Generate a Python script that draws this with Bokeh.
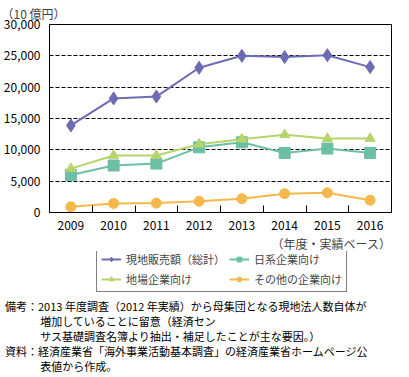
from bokeh.plotting import figure
from bokeh.models import (FixedTicker, Legend, LegendItem, Title, Div, Range1d,
                          NumeralTickFormatter, CustomJSTickFormatter)
from bokeh.layouts import column
from bokeh.embed import file_html
from bokeh.resources import INLINE

years = ["2009", "2010", "2011", "2012", "2013", "2014", "2015", "2016"]
total = [13900, 18200, 18500, 23100, 25000, 24800, 25100, 23200]
japanese = [6000, 7500, 7800, 10400, 11200, 9500, 10200, 9500]
local = [7000, 9100, 9100, 10900, 11700, 12400, 11800, 11800]
other = [900, 1450, 1500, 1800, 2200, 3000, 3150, 1950]
series_names = ["現地販売額（総計）", "日系企業向け", "地場企業向け", "その他の企業向け"]
y_ticks = [0, 5000, 10000, 15000, 20000, 25000, 30000]

FONT = "Noto Sans CJK JP"
xs = list(range(len(years)))

c_total = "#6D6BB5"
c_jp = "#6CBFA5"
c_local = "#B5D56B"
c_other = "#F5B84B"
colors = [c_total, c_jp, c_local, c_other]
markers = ["diamond", "square", "triangle", "circle"]
msizes = [13, 11, 10, 10]
series = [total, japanese, local, other]

p = figure(frame_width=342, frame_height=188, output_backend="svg", toolbar_location=None,
           x_range=Range1d(-0.5, len(years) - 0.5), y_range=Range1d(0, 30000),
           min_border_left=45, min_border_right=6, min_border_top=0, min_border_bottom=0)
p.outline_line_color = "black"
p.outline_line_width = 1

p.xaxis.ticker = FixedTicker(ticks=xs, minor_ticks=[i + 0.5 for i in xs[:-1]])
p.xaxis.formatter = CustomJSTickFormatter(args=dict(labels=years),
                                          code="return labels[Math.round(tick)] || '';")
p.xaxis.major_tick_line_color = None
p.xaxis.minor_tick_in = 7
p.xaxis.minor_tick_out = 0
p.xaxis.minor_tick_line_color = "black"
p.xaxis.axis_line_color = "black"
p.xaxis.major_label_text_font = FONT
p.xaxis.major_label_text_font_size = "12px"
p.xaxis.major_label_text_color = "black"
p.xaxis.major_label_standoff = 2

p.yaxis.ticker = FixedTicker(ticks=y_ticks)
p.yaxis.formatter = NumeralTickFormatter(format="0,0")
p.yaxis.major_tick_line_color = None
p.yaxis.minor_tick_line_color = None
p.yaxis.axis_line_color = "black"
p.yaxis.major_label_text_font = FONT
p.yaxis.major_label_text_font_size = "12px"
p.yaxis.major_label_text_color = "black"
p.yaxis.major_label_standoff = 3

p.xgrid.grid_line_color = None
p.ygrid.grid_line_color = "black"
p.ygrid.grid_line_dash = "4 2"
p.ygrid.grid_line_width = 1

for vals, col, mk, ms in zip(series, colors, markers, msizes):
    p.line(xs, vals, color=col, line_width=2)
    p.scatter(xs, vals, marker=mk, size=ms, color=col)

t_unit = Title(text="（10 億円）", align="left", offset=-48, text_font=FONT,
               text_font_size="12px", text_font_style="normal", standoff=5)
p.add_layout(t_unit, "above")
t_x = Title(text="（年度・実績ベース）", align="right", text_font=FONT,
            text_font_size="12px", text_font_style="normal", standoff=0)
p.add_layout(t_x, "below")

# legend panel: a small figure whose own line+marker renderers are kept out of view
lg = figure(width=393, height=43, output_backend="svg", toolbar_location=None,
            x_range=Range1d(100, 101), y_range=Range1d(100, 101),
            min_border=0, min_border_left=0, min_border_right=0,
            min_border_top=0, min_border_bottom=0)
lg.axis.visible = False
lg.grid.visible = False
lg.outline_line_color = None
item_by_name = {}
for name, vals, col, mk, ms in zip(series_names, series, colors, markers, msizes):
    r1 = lg.line(xs, vals, color=col, line_width=2)
    r2 = lg.scatter(xs, vals, marker=mk, size=9, color=col)
    item_by_name[name] = LegendItem(label=name, renderers=[r1, r2])
# column-major fill: column 1 = total, local; column 2 = japanese, other
order = [series_names[0], series_names[2], series_names[1], series_names[3]]
legend = Legend(items=[item_by_name[n] for n in order], ncols=2, location=(47, 2))
legend.label_text_font = FONT
legend.label_text_font_size = "11px"
legend.border_line_color = "black"
legend.border_line_width = 1
legend.glyph_width = 20
legend.glyph_height = 12
legend.label_standoff = 5
legend.spacing = 4
legend.padding = 4
legend.margin = 0
legend.label_height = 14
lg.add_layout(legend, "center")

notes_html = (
    '<div style="font-family:\'Noto Sans CJK JP\';font-size:11px;line-height:15px;'
    'color:black;white-space:nowrap;">'
    '<div>備考：2013 年度調査（2012 年実績）から母集団となる現地法人数自体が</div>'
    '<div style="padding-left:3.2em">増加していることに留意（経済セン</div>'
    '<div style="padding-left:3.2em">サス基礎調査名簿より抽出・補足したことが主な要因。）</div>'
    '<div>資料：経済産業省「海外事業活動基本調査」の経済産業省ホームページ公</div>'
    '<div style="padding-left:3.2em">表値から作成。</div>'
    '</div>'
)
notes = Div(text=notes_html, width=393, height=76)

layout = column(p, lg, notes, spacing=0)
open("out.html", "w").write(file_html(layout, INLINE))
